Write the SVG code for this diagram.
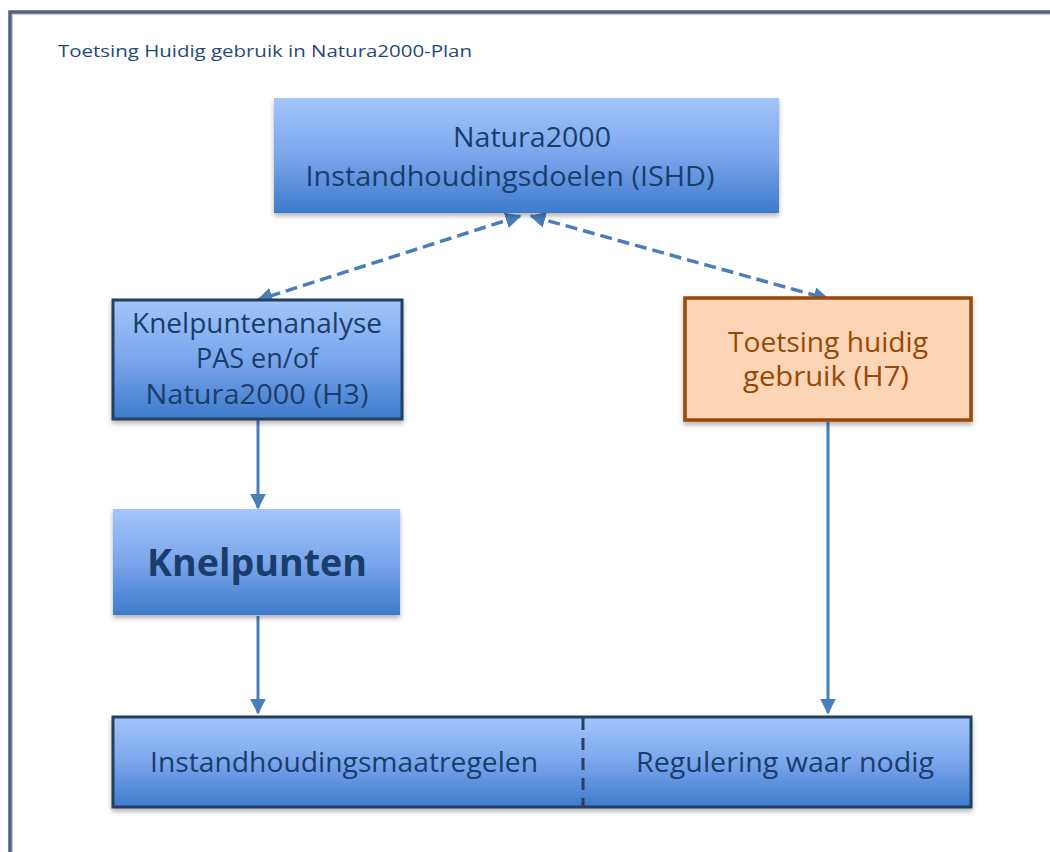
<svg xmlns="http://www.w3.org/2000/svg" width="1050" height="852" viewBox="0 0 1050 852">
<defs>
<linearGradient id="blue" x1="0" y1="0" x2="0" y2="1">
<stop offset="0" stop-color="#a3c5fb"/>
<stop offset="0.5" stop-color="#7aa6ec"/>
<stop offset="1" stop-color="#3d7bcc"/>
</linearGradient>
<filter id="sh" x="-10%" y="-10%" width="120%" height="130%">
<feDropShadow dx="0" dy="3" stdDeviation="2.5" flood-color="#000" flood-opacity="0.3"/>
</filter>
<marker id="ah" viewBox="0 0 10 10" refX="9" refY="5" markerWidth="16" markerHeight="16" markerUnits="userSpaceOnUse" orient="auto-start-reverse">
<path d="M0,0 L10,5 L0,10 z" fill="#4a7ebb"/>
</marker>
<style>
.t{font-family:"Open Sans","Liberation Sans",sans-serif;fill:#1b3d6b;text-anchor:middle}
.c{fill:none;stroke:#4a7ebb;stroke-width:3}
.d{stroke-width:3.5;stroke-dasharray:12 6}
</style>
</defs>
<rect width="1050" height="852" fill="#fff"/>
<g id="frame">
<path d="M10,852 V12 H1050" fill="none" stroke="#56627a" stroke-width="3.5"/>
<path d="M12.5,852 V14.5 H1050" fill="none" stroke="#c4cbd6" stroke-width="1"/>
</g>
<g id="title">
<text x="58" y="57" font-family="Open Sans, Liberation Sans, sans-serif" font-size="17" fill="#1f497d" textLength="414" lengthAdjust="spacingAndGlyphs">Toetsing Huidig gebruik in Natura2000-Plan</text>
</g>
<g id="connectors">
<line class="c d" x1="520" y1="216" x2="258" y2="300" marker-start="url(#ah)" marker-end="url(#ah)"/>
<line class="c d" x1="531" y1="216" x2="828" y2="299" marker-start="url(#ah)" marker-end="url(#ah)"/>
<line class="c" x1="258" y1="420" x2="258" y2="508" marker-end="url(#ah)"/>
<line class="c" x1="258" y1="616" x2="258" y2="713" marker-end="url(#ah)"/>
<line class="c" x1="828" y1="422" x2="828" y2="713" marker-end="url(#ah)"/>
</g>
<g id="n-isdh">
<rect x="274" y="98" width="505" height="115" fill="url(#blue)" filter="url(#sh)"/>
<text class="t" x="532" y="147" font-size="28" textLength="158" lengthAdjust="spacingAndGlyphs">Natura2000</text>
<text class="t" x="510" y="186" font-size="28" textLength="409" lengthAdjust="spacingAndGlyphs">Instandhoudingsdoelen  (ISHD)</text>
</g>
<g id="n-knelpuntenanalyse">
<rect x="113" y="300" width="289" height="119" fill="url(#blue)" stroke="#243f60" stroke-width="3" filter="url(#sh)"/>
<text class="t" x="257" y="333" font-size="27" textLength="250" lengthAdjust="spacingAndGlyphs">Knelpuntenanalyse</text>
<text class="t" x="257" y="368" font-size="27">PAS en/of</text>
<text class="t" x="257" y="404" font-size="27" textLength="223" lengthAdjust="spacingAndGlyphs">Natura2000 (H3)</text>
</g>
<g id="n-toetsing">
<rect x="685" y="298" width="286" height="122" fill="#fbd5b5" stroke="#984807" stroke-width="3.5" filter="url(#sh)"/>
<text class="t" x="828" y="352" font-size="27" style="fill:#984807" textLength="200" lengthAdjust="spacingAndGlyphs">Toetsing huidig</text>
<text class="t" x="826" y="386" font-size="27" style="fill:#984807" textLength="166" lengthAdjust="spacingAndGlyphs">gebruik  (H7)</text>
</g>
<g id="n-knelpunten">
<rect x="113" y="509" width="287" height="106" fill="url(#blue)" filter="url(#sh)"/>
<text class="t" x="257" y="576" font-size="38" font-weight="bold" textLength="220" lengthAdjust="spacingAndGlyphs">Knelpunten</text>
</g>
<g id="n-maatregelen">
<rect x="113" y="717" width="858" height="90" fill="url(#blue)" stroke="#243f60" stroke-width="3" filter="url(#sh)"/>
<line x1="583" y1="718" x2="583" y2="806" stroke="#243f60" stroke-width="3" stroke-dasharray="12 8"/>
<text class="t" x="344" y="772" font-size="27" textLength="388" lengthAdjust="spacingAndGlyphs">Instandhoudingsmaatregelen</text>
<text class="t" x="785" y="772" font-size="27" textLength="298" lengthAdjust="spacingAndGlyphs">Regulering  waar nodig</text>
</g>
</svg>
